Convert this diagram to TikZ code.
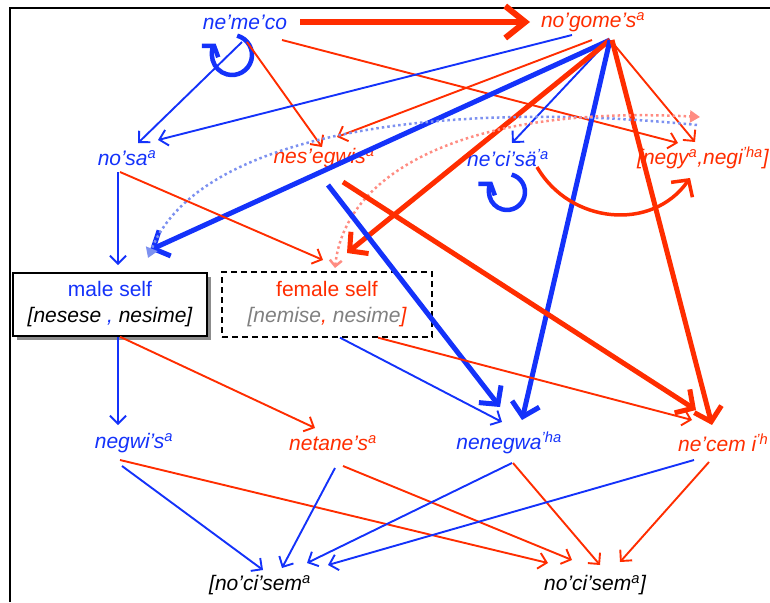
\documentclass[tikz,border=0pt]{standalone}
\usepackage{fontspec}
\setmainfont{Liberation Sans}
\usetikzlibrary{arrows.meta,calc,shadows}
\definecolor{nblue}{RGB}{20,50,250}
\definecolor{nred}{RGB}{255,45,0}
\definecolor{dotblue}{RGB}{125,145,240}
\definecolor{dotred}{RGB}{255,140,130}
\newcommand{\up}[1]{\textsuperscript{#1}}

\begin{document}
\begin{tikzpicture}[x=1pt,y=1pt,
   word/.style={font=\fontsize{21}{24}\selectfont\itshape,inner sep=1pt},
   bw/.style={word,text=nblue},
   rw/.style={word,text=nred},
   kw/.style={word,text=black},
   thinb/.style={nblue,line width=1.9pt,-{Straight Barb[length=8pt,width=16pt]}},
   thinr/.style={nred,line width=1.9pt,-{Straight Barb[length=8pt,width=16pt]}},
   thickb/.style={nblue,line width=5pt,-{Straight Barb[length=13pt,width=28pt]}},
   thickr/.style={nred,line width=5pt,-{Straight Barb[length=13pt,width=28pt]}},
   loopb/.style={nblue,line width=4.5pt,-{Straight Barb[length=7pt,width=20pt]}},
   dotb/.style={dotblue,line width=2.5pt,dash pattern=on 2.5pt off 3pt,-{Triangle[length=10pt,width=12pt]}},
   dotr/.style={dotred,line width=2.5pt,dash pattern=on 2.5pt off 3pt,{Straight Barb[length=6pt,width=12pt]}-{Triangle[length=10pt,width=12pt]}},
   ]
\useasboundingbox (0,0) rectangle (770,-602);
\draw[line width=2.5pt] (10,-602) -- (10,-8) -- (770,-8);

% words
\node[bw] (nemeco) at (245,-22) {ne’me’co};
\node[rw] (nogomes) at (593,-22) {no’gome’s\up{a}};
\node[bw] (nosa) at (127,-158) {no’sa\up{a}};
\node[rw] (nesegwis) at (324,-158) {nes’egwis\up{a}};
\node[bw] (necisa) at (508,-158) {ne’ci’sä\up{’a}};
\node[rw,anchor=west] (negy) at (636,-158) {[negy\up{a},negi\up{’ha}]};
\node[draw=black,line width=1.5pt,fill=white,
      drop shadow={shadow xshift=4pt,shadow yshift=-4pt,opacity=.45,fill=black},
      minimum width=194pt,minimum height=63pt,align=center,
      font=\fontsize{21}{26}\selectfont] (male) at (110,-304.5)
   {\textcolor{nblue}{male self}\\ \itshape [nesese \textcolor{nblue}{,} nesime]};
\node[draw=black,line width=1.3pt,dash pattern=on 6pt off 4pt,
      minimum width=210pt,minimum height=65pt,align=center,
      font=\fontsize{21}{26}\selectfont] (female) at (327,-304.5)
   {\textcolor{nred}{female self}\\ \color{gray}\itshape [nemise\textcolor{nred}{,} nesime\textcolor{nred}{]}};
\node[bw] (negwis) at (134,-443) {negwi’s\up{a}};
\node[rw] (netanes) at (333,-443) {netane’s\up{a}};
\node[bw] (nenegwa) at (509,-443) {nenegwa\up{’ha}};
\node[rw,anchor=west] (necem) at (677,-443) {ne’cem i\up{’h}};
\node[kw] (nocisemL) at (260,-585) {[no’ci’sem\up{a}};
\node[kw] (nocisemR) at (595,-585) {no’ci’sem\up{a}]};

% from ne'me'co
\draw[nred,line width=6pt,-{Straight Barb[length=20pt,width=32pt]}]
   ($(nemeco)+(55,0)$) -- ($(nogomes)+(-63,0)$);
\draw[loopb] ($(nemeco)+(-13,-33)+(75:20)$) arc[start angle=75,end angle=-215,radius=20];
\draw[thinb] ($(nemeco)+(-3,-20)$) -- ($(nosa)+(11,15)$);
\draw[thinr] ($(nemeco)+(2,-20)$) -- ($(nesegwis)+(-2,11)$);
\draw[thinr] ($(nemeco)+(37,-18)$) -- ($(negy.west)+(42,15)$);

% from no'gome's
\draw[thinb] ($(nogomes)+(-21,-13)$) -- ($(nosa)+(31,18)$);
\draw[thinr] ($(nogomes)+(-1,-18)$) -- ($(nesegwis)+(13,21)$);
\draw[thickb] ($(nogomes)+(17,-18)$) -- ($(male)+(40,54.5)$);
\draw[thinb] ($(nogomes)+(12,-22)$) -- ($(necisa)+(4,15)$);
\draw[thickr] ($(nogomes)+(17,-18)$) -- ($(female)+(20,51.5)$);
\draw[thickb] ($(nogomes)+(17,-18)$) -- ($(nenegwa)+(13,23)$);
\draw[thickr] ($(nogomes)+(19,-18)$) -- ($(necem.west)+(35,18)$);
\draw[thinr] ($(nogomes)+(19,-20)$) -- ($(negy.west)+(59,16)$);

% dotted arcs
\draw[dotb] ($(negy.west)+(61,33)$) .. controls (450,-100) and (200,-130) .. ($(male)+(38,46.5)$);
\draw[dotr] ($(female)+(8,36.5)$) .. controls (345,-170) and (470,-105) .. ($(negy.west)+(64,41)$);

% ne'ci'sa'
\draw[loopb] ($(necisa)+(-1,-34)+(75:18)$) arc[start angle=75,end angle=-215,radius=18];
\draw[nred,line width=3.5pt,-{Straight Barb[length=12pt,width=26pt]}]
   ($(necisa)+(29,-9)$) to[out=-60,in=-125,looseness=1.1] ($(negy.west)+(54,-20)$);

% second row
\draw[thinb] ($(nosa)+(-9,-14)$) -- ($(male)+(8,39.5)$);
\draw[thinr] ($(nosa)+(-7,-14)$) -- ($(female)+(-4,44.5)$);
\draw[thickb] ($(nesegwis)+(4,-27)$) -- ($(nenegwa)+(-9,36)$);
\draw[thickr] ($(nesegwis)+(19,-24)$) -- ($(necem.west)+(19,33)$);

% selves
\draw[thinb] ($(male.south)+(8,0)$) -- ($(negwis)+(-16,18)$);
\draw[thinr] ($(male.south)+(10,0)$) -- ($(netanes)+(-18,15)$);
\draw[thinb] ($(female.south)+(13,0)$) -- ($(nenegwa)+(-7,21)$);
\draw[thinr] ($(female.south)+(51,0)$) -- ($(necem.west)+(15,23)$);

% bottom
\draw[thinb] ($(negwis)+(-12,-23)$) -- ($(nocisemL)+(3,15)$);
\draw[thinr] ($(negwis)+(-14,-17)$) -- ($(nocisemR)+(-47,22)$);
\draw[thinb] ($(netanes)+(2,-25)$) -- ($(nocisemL)+(22,17)$);
\draw[thinr] ($(netanes)+(10,-23)$) -- ($(nocisemR)+(-23,25)$);
\draw[thinb] ($(nenegwa)+(3,-20)$) -- ($(nocisemL)+(47,22)$);
\draw[thinr] ($(nenegwa)+(4,-20)$) -- ($(nocisemR)+(5,20)$);
\draw[thinb] ($(necem.west)+(17,-17)$) -- ($(nocisemL)+(68,20)$);
\draw[thinr] ($(necem.west)+(32,-19)$) -- ($(nocisemR)+(25,23)$);
\end{tikzpicture}
\end{document}
